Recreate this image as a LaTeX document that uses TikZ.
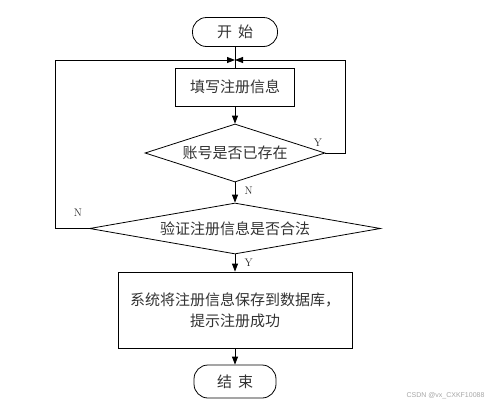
\documentclass[tikz,border=0pt]{standalone}
\usepackage{fontspec}
\newfontfamily\cjk{Noto Sans CJK SC}
\newfontfamily\wmfont{Liberation Sans}
\usetikzlibrary{shapes.geometric,arrows.meta}
\begin{document}
\begin{tikzpicture}[x=1pt,y=-1pt,
  base/.style={draw=black,line width=0.8pt,font=\cjk\fontsize{15}{21}\selectfont,text=black!80,inner sep=0pt,align=center},
  term/.style={base,rounded corners=14pt},
  procbox/.style={base,rectangle},
  decide/.style={base,diamond},
  arr/.style={draw=black,line width=0.8pt,-{Triangle[length=8pt,width=6pt]}},
  lbl/.style={font=\fontsize{11}{13}\selectfont,text=black!85},
  link/.style={draw=black,line width=0.8pt}]
\useasboundingbox (0,0) rectangle (490,407);
\node[term,minimum width=85pt,minimum height=29pt] (start) at (235,32) {开\hspace{6pt}始};
\node[procbox,minimum width=119pt,minimum height=38pt] (b1) at (235,87) {填写注册信息};
\node[decide,aspect=3.1,minimum width=180pt,minimum height=58pt] (d1) at (235,153) {账号是否已存在};
\node[decide,aspect=5.7,minimum width=291pt,minimum height=51pt] (d2) at (235,228.5) {验证注册信息是否合法};
\node[procbox,minimum width=234pt,minimum height=76pt] (b2) at (235,310) {系统将注册信息保存到数据库，\\提示注册成功};
\node[term,minimum width=82pt,minimum height=33pt] (end) at (235,381.5) {结\hspace{6pt}束};
\coordinate (m) at (235,60);
\coordinate (rY) at (345,60);
\coordinate (lN) at (55,60);
\draw[link] (start.south) -- (b1.north);
\draw[arr] (b1.south) -- (d1.north);
\draw[arr] (d1.south) -- node[lbl,right=6pt,pos=0.4] (nN1) {N} (d2.north);
\draw[arr] (d2.south) -- node[lbl,right=6pt,pos=0.5] (nY2) {Y} (b2.north);
\draw[arr] (b2.south) -- (end.north);
\draw[arr] (d1.east) -| (rY) -- (m);
\draw[arr] (d2.west) -| (lN) -- (m);
\node[lbl] (nY1) at (318,143) {Y};
\node[lbl] (nN2) at (78,213) {N};
\node[font=\wmfont\fontsize{7}{8}\selectfont,text=black!35,anchor=east] (wm) at (488,396) {CSDN @vx\_CXKF10088};
\end{tikzpicture}
\end{document}
